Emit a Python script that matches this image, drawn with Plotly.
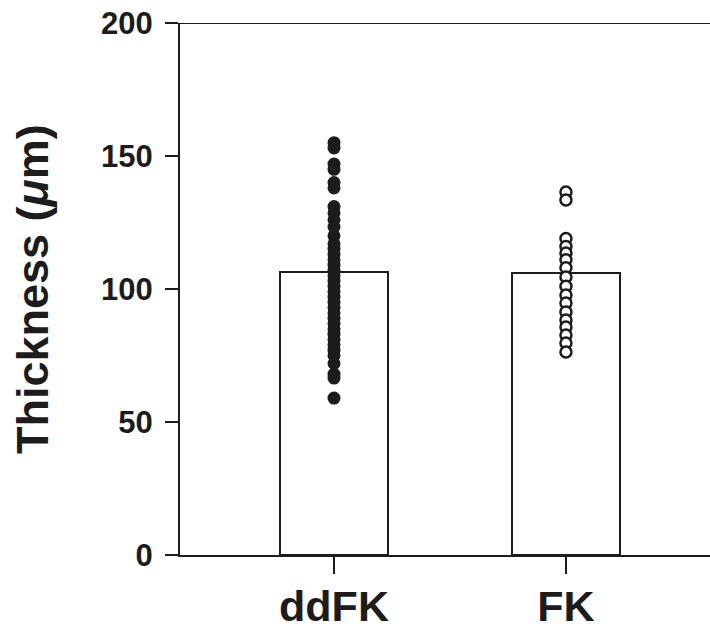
import plotly.graph_objects as go

categories = ["ddFK", "FK"]
cat_pos = [0, 1]
means = [106.4, 106.0]

ddfk_values = [155, 153, 147, 145, 140, 138, 131, 128.6, 126, 123.3, 120, 117, 115, 113, 111,
               109, 107, 105, 103, 101, 99, 97, 95, 93, 91, 89, 87, 85, 83, 81, 79,
               77, 75, 72, 68, 66.5, 59]
fk_values = [136.5, 133.5, 119, 116, 113.5, 111, 108, 104.5, 101, 97.7, 94.7, 91.4,
             88.3, 85.7, 82.7, 79.7, 76.3]

y_ticks = [0, 50, 100, 150, 200]

ink = "#1c1c1c"
font_family = "Liberation Sans, Arial, sans-serif"

fig = go.Figure()
fig.add_trace(go.Bar(
    x=cat_pos, y=means, width=0.466,
    marker=dict(color="white", line=dict(color=ink, width=2)),
    showlegend=False,
))
fig.add_trace(go.Scatter(
    x=[cat_pos[0]] * len(ddfk_values), y=ddfk_values, mode="markers",
    marker=dict(size=13, color=ink, line=dict(width=0)),
    showlegend=False, cliponaxis=False,
))
fig.add_trace(go.Scatter(
    x=[cat_pos[1]] * len(fk_values), y=fk_values, mode="markers",
    marker=dict(size=11, color="white", line=dict(color=ink, width=2.5)),
    showlegend=False, cliponaxis=False,
))

fig.add_shape(type="line", xref="paper", yref="y", x0=0, x1=1, y0=200, y1=200,
              line=dict(color=ink, width=2))

fig.add_annotation(
    text="Thickness (<i>μ</i>m)", textangle=-90, xref="paper", yref="paper",
    x=(32 - 180) / 530, y=0.5, xanchor="center", yanchor="middle", showarrow=False,
    font=dict(family=font_family, size=45, color=ink, weight="bold"),
)

fig.update_layout(
    width=710, height=629,
    margin=dict(l=180, r=0, t=23, b=74, autoexpand=False),
    paper_bgcolor="white", plot_bgcolor="white",
    bargap=0,
    xaxis=dict(
        range=[-0.664, 1.621], tickvals=cat_pos, ticktext=categories,
        showline=True, linecolor=ink, linewidth=2,
        ticks="outside", ticklen=17, tickwidth=2, tickcolor=ink,
        showgrid=False, zeroline=False, automargin=False,
        ticklabelstandoff=-5, ticklabeloverflow="allow",
        tickfont=dict(family=font_family, size=43, color=ink, weight="bold"),
    ),
    yaxis=dict(
        range=[0, 200], tickvals=y_ticks,
        showline=True, linecolor=ink, linewidth=2,
        ticks="outside", ticklen=13, tickwidth=2, tickcolor=ink,
        showgrid=False, zeroline=False, automargin=False,
        ticklabelstandoff=6, ticklabeloverflow="allow",
        tickfont=dict(family=font_family, size=31, color=ink, weight="bold"),
    ),
)

fig.write_html(
    "out.html",
    config={"displayModeBar": False},
    post_script="document.body.style.margin='0';document.body.style.overflow='hidden';",
)
